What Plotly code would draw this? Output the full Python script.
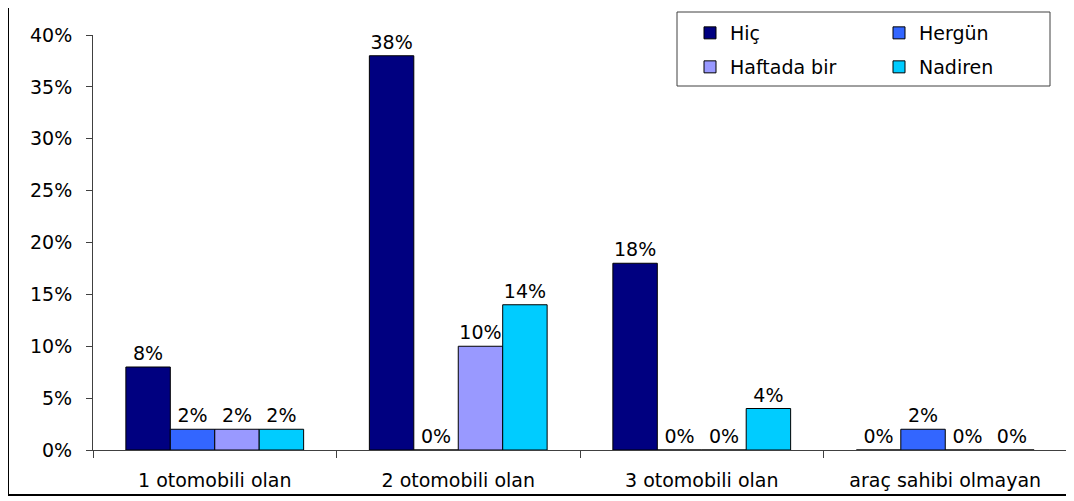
import plotly.graph_objects as go

categories = ["1 otomobili olan", "2 otomobili olan", "3 otomobili olan", "araç sahibi olmayan"]
series_names = ["Hiç", "Hergün", "Haftada bir", "Nadiren"]
hic = [8, 38, 18, 0]
hergun = [2, 0, 0, 2]
haftada_bir = [2, 10, 0, 0]
nadiren = [2, 14, 4, 0]
colors = ["#000080", "#3366FF", "#9999FF", "#00CCFF"]
legend_ids = ["legend", "legend", "legend2", "legend2"]
y_ticks = [0, 5, 10, 15, 20, 25, 30, 35, 40]

OFF = 8  # page body margin offset
W, H = 1074 - OFF, 501 - OFF
# plot area in screen coordinates: x 93..1067, y 35..450
L = 93 - OFF
T = 35 - OFF
R = W - (1067 - OFF)
B = H - (450 - OFF)
PW, PH = W - L - R, H - T - B

def px(x):
    return (x - OFF - L) / PW

def py(y):
    return (H - B - (y - OFF)) / PH

def cx(x):
    return (x - OFF) / W

def cy(y):
    return 1 - (y - OFF) / H

FONT = "DejaVu Sans, Verdana, sans-serif"
FS = 19

fig = go.Figure()
for name, vals, col, lg in zip(series_names, [hic, hergun, haftada_bir, nadiren], colors, legend_ids):
    fig.add_trace(go.Bar(
        x=categories, y=vals, name=name, legend=lg,
        marker=dict(color=col, line=dict(color="#000000", width=1)),
        text=[f"{v}%" for v in vals], textposition="outside",
        textfont=dict(size=FS, color="#000000", family=FONT),
        cliponaxis=False,
    ))

leg_common = dict(orientation="h", xref="container", yref="container", xanchor="left",
                  yanchor="middle", entrywidth=144, entrywidthmode="pixels",
                  bgcolor="rgba(0,0,0,0)", font=dict(size=FS, family=FONT),
                  traceorder="normal")

fig.update_layout(
    width=W, height=H,
    margin=dict(l=L, r=R, t=T, b=B, autoexpand=False),
    paper_bgcolor="white", plot_bgcolor="white",
    font=dict(family=FONT, size=FS, color="#000000"),
    barmode="group", bargap=0.27, bargroupgap=0,
    legend=dict(x=cx(690), y=cy(33), **leg_common),
    legend2=dict(x=cx(690), y=cy(67), **leg_common),
    xaxis=dict(showline=True, linecolor="#404040", linewidth=1, ticks="outside",
               tickson="boundaries", ticklen=7, tickcolor="#404040", showgrid=False,
               ticklabelstandoff=13, tickfont=dict(size=FS, family=FONT)),
    yaxis=dict(range=[0, 40], tickvals=y_ticks, ticktext=[f"{v}%" for v in y_ticks],
               showline=True, linecolor="#404040", linewidth=1, ticks="outside",
               ticklen=6, tickcolor="#404040", showgrid=False, zeroline=False,
               ticklabelstandoff=10, tickfont=dict(size=FS, family=FONT)),
    shapes=[
        dict(type="rect", xref="paper", yref="paper", x0=px(8), x1=px(1090), y0=py(495), y1=py(4),
             line=dict(color="#000000", width=2), fillcolor="rgba(0,0,0,0)", layer="above"),
        dict(type="rect", xref="paper", yref="paper", x0=px(677), x1=px(1050), y0=py(86), y1=py(12),
             line=dict(color="#404040", width=1), fillcolor="rgba(0,0,0,0)"),
    ],
)

fig.write_html("out.html")
